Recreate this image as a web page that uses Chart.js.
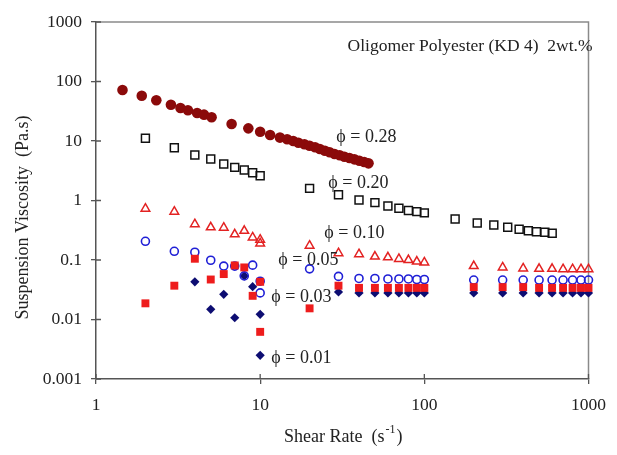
<!DOCTYPE html>
<html>
<head>
<meta charset="utf-8">
<script src="https://cdn.jsdelivr.net/npm/chart.js@4.4.0/dist/chart.umd.min.js"></script>
<style>
  html, body { margin: 0; padding: 0; background: #fff; }
  #wrap { width: 617px; height: 455px; }
</style>
</head>
<body>
<div id="wrap"><canvas id="viscChart" width="617" height="455"></canvas></div>
<script>
// shear rate (1/s) and suspension viscosity (Pa.s)
const rate28 = [1.45, 1.9, 2.33, 2.86, 3.27, 3.63, 4.13, 4.55, 5.06, 6.7, 8.47, 10, 11.5, 13.2, 14.6, 15.9, 17.1, 18.6, 20, 21.6, 23.1, 24.8, 26.5, 28.4, 30.5, 32.6, 35, 37.5, 40.2, 43, 45.7];
const visc28 = [72, 57.7, 48.3, 40.7, 35.9, 32.8, 29.6, 27.7, 25, 19.3, 16.3, 14.3, 12.6, 11.4, 10.7, 10.0, 9.36, 8.8, 8.34, 7.83, 7.34, 6.87, 6.46, 6.05, 5.75, 5.45, 5.18, 4.92, 4.67, 4.43, 4.21];

const rate20 = [2, 3, 4, 5, 6, 7, 8, 9, 10, 20, 30, 40, 50, 60, 70, 80, 90, 100, 154, 210, 265, 322, 378, 430, 482, 542, 601];
const visc20 = [11.1, 7.7, 5.8, 4.97, 4.1, 3.6, 3.26, 2.93, 2.6, 1.6, 1.25, 1.02, 0.92, 0.81, 0.74, 0.68, 0.65, 0.62, 0.49, 0.42, 0.387, 0.355, 0.328, 0.31, 0.299, 0.292, 0.281];

const rate10 = [2, 3, 4, 5, 6, 7, 8, 9, 10, 10, 20, 30, 40, 50, 60, 70, 80, 90, 100, 200, 300, 400, 500, 600, 700, 800, 900, 1000];
const visc10 = [0.73, 0.65, 0.40, 0.355, 0.35, 0.27, 0.31, 0.24, 0.22, 0.19, 0.174, 0.13, 0.125, 0.114, 0.111, 0.104, 0.1, 0.094, 0.091, 0.079, 0.075, 0.072, 0.071, 0.071, 0.070, 0.070, 0.070, 0.070];

const rate05 = [2, 3, 4, 5, 6, 7, 8, 9, 10, 10, 20, 30, 40, 50, 60, 70, 80, 90, 100, 200, 300, 400, 500, 600, 700, 800, 900, 1000];
const visc05 = [0.206, 0.14, 0.135, 0.099, 0.079, 0.079, 0.054, 0.082, 0.044, 0.028, 0.071, 0.053, 0.049, 0.049, 0.048, 0.048, 0.048, 0.047, 0.047, 0.046, 0.046, 0.046, 0.046, 0.046, 0.046, 0.046, 0.046, 0.046];

const rate03 = [2, 3, 4, 5, 6, 7, 8, 9, 10, 10, 20, 30, 40, 50, 60, 70, 80, 90, 100, 200, 300, 400, 500, 600, 700, 800, 900, 1000];
const visc03 = [0.0187, 0.037, 0.105, 0.047, 0.058, 0.081, 0.075, 0.025, 0.043, 0.0062, 0.0154, 0.037, 0.034, 0.034, 0.034, 0.034, 0.034, 0.034, 0.034, 0.035, 0.035, 0.035, 0.034, 0.034, 0.034, 0.034, 0.034, 0.034];

const rate01 = [4, 5, 6, 7, 8, 9, 10, 10, 30, 40, 50, 60, 70, 80, 90, 100, 200, 300, 400, 500, 600, 700, 800, 900, 1000];
const visc01 = [0.043, 0.0148, 0.0265, 0.0107, 0.054, 0.0356, 0.0122, 0.0025, 0.029, 0.028, 0.028, 0.028, 0.028, 0.028, 0.028, 0.028, 0.028, 0.028, 0.028, 0.028, 0.028, 0.028, 0.028, 0.028, 0.028];

const xTicks = [1, 10, 100, 1000];
const yTicks = [0.001, 0.01, 0.1, 1, 10, 100, 1000];

// curve labels, anchored in data coordinates (left edge, vertical middle)
const curveLabels = [
  { text: "\u03D5 = 0.28", x: 29.1, y: 11.7 },
  { text: "\u03D5 = 0.20", x: 26, y: 1.97 },
  { text: "\u03D5 = 0.10", x: 24.6, y: 0.284 },
  { text: "\u03D5 = 0.05", x: 12.9, y: 0.1 },
  { text: "\u03D5 = 0.03", x: 11.7, y: 0.0239 },
  { text: "\u03D5 = 0.01", x: 11.7, y: 0.00225 }
];
const boxTitle = "Oligomer Polyester (KD 4)  2wt.%";

const serif = "'Liberation Serif', 'Times New Roman', serif";

function pts(xs, ys) {
  return xs.map((v, i) => ({ x: v, y: ys[i] }));
}

// frame, cross ticks and text
const decorations = {
  id: "decorations",
  beforeDatasetsDraw(chart) {
    const { ctx, chartArea: a, scales } = chart;
    ctx.save();
    ctx.strokeStyle = "#8a8a8a";
    ctx.lineWidth = 1.5;
    ctx.beginPath();
    ctx.moveTo(a.left, a.top);
    ctx.lineTo(a.right, a.top);
    ctx.lineTo(a.right, a.bottom);
    ctx.stroke();
    // inner half of the ticks
    ctx.strokeStyle = "#555";
    ctx.lineWidth = 1.3;
    ctx.beginPath();
    xTicks.forEach(v => {
      const px = scales.x.getPixelForValue(v);
      ctx.moveTo(px, a.bottom);
      ctx.lineTo(px, a.bottom - 5);
    });
    yTicks.forEach(v => {
      const py = scales.y.getPixelForValue(v);
      ctx.moveTo(a.left, py);
      ctx.lineTo(a.left + 5, py);
    });
    ctx.stroke();
    ctx.restore();
  },
  afterDatasetsDraw(chart) {
    const { ctx, chartArea: a, scales } = chart;
    ctx.save();
    ctx.fillStyle = "#222";
    ctx.textBaseline = "middle";
    ctx.font = "18px " + serif;
    ctx.textAlign = "left";
    curveLabels.forEach(l => {
      ctx.fillText(l.text, scales.x.getPixelForValue(l.x), scales.y.getPixelForValue(l.y));
    });
    ctx.font = "17.5px " + serif;
    ctx.textAlign = "right";
    ctx.fillText(boxTitle, a.right + 4, a.top + 24);
    ctx.textAlign = "left";
    ctx.font = "18px " + serif;

    // y axis title
    ctx.save();
    ctx.translate(23, (a.top + a.bottom) / 2 + 17);
    ctx.rotate(-Math.PI / 2);
    ctx.textAlign = "center";
    ctx.fillText("Suspension Viscosity  (Pa.s)", 0, 0);
    ctx.restore();

    // x axis title with superscript
    const main = "Shear Rate  (s";
    const sup = "-1";
    const close = ")";
    ctx.font = "18px " + serif;
    const w1 = ctx.measureText(main).width;
    const w3 = ctx.measureText(close).width;
    ctx.font = "12px " + serif;
    const w2 = ctx.measureText(sup).width;
    let x0 = (a.left + a.right) / 2 - (w1 + w2 + w3) / 2;
    const yT = 437;
    ctx.font = "18px " + serif;
    ctx.fillText(main, x0, yT);
    ctx.font = "12px " + serif;
    ctx.fillText(sup, x0 + w1 + 1, yT - 7);
    ctx.font = "18px " + serif;
    ctx.fillText(close, x0 + w1 + w2 + 2, yT);
    ctx.restore();
  }
};

const ctx = document.getElementById("viscChart").getContext("2d");
const viscChart = new Chart(ctx, {
  type: "scatter",
  data: {
    datasets: [
      {
        label: "phi = 0.03",
        data: pts(rate03, visc03),
        pointStyle: "rect",
        pointRadius: 5.6,
        backgroundColor: "#ee1c1c",
        borderColor: "#ee1c1c",
        borderWidth: 0,
        clip: false
      },
      {
        label: "phi = 0.05",
        data: pts(rate05, visc05),
        pointStyle: "circle",
        pointRadius: 4,
        backgroundColor: "rgba(0,0,0,0)",
        borderColor: "#1f1fd6",
        borderWidth: 1.6,
        clip: false
      },
      {
        label: "phi = 0.01",
        data: pts(rate01, visc01),
        pointStyle: "rectRot",
        pointRadius: 4.6,
        backgroundColor: "#0d0d72",
        borderColor: "#0d0d72",
        borderWidth: 0,
        clip: false
      },
      {
        label: "phi = 0.10",
        data: pts(rate10, visc10),
        pointStyle: "triangle",
        pointRadius: 5,
        backgroundColor: "rgba(0,0,0,0)",
        borderColor: "#e32222",
        borderWidth: 1.5,
        clip: false
      },
      {
        label: "phi = 0.20",
        data: pts(rate20, visc20),
        pointStyle: "rect",
        pointRadius: 5.6,
        backgroundColor: "rgba(0,0,0,0)",
        borderColor: "#111",
        borderWidth: 1.5,
        clip: false
      },
      {
        label: "phi = 0.28",
        data: pts(rate28, visc28),
        pointStyle: "circle",
        pointRadius: 5.3,
        backgroundColor: "#8b0a0a",
        borderColor: "#8b0a0a",
        borderWidth: 0,
        clip: false
      }
    ]
  },
  options: {
    responsive: false,
    animation: false,
    layout: { padding: { left: 0, top: 22, right: 21, bottom: 0 } },
    plugins: {
      legend: { display: false },
      tooltip: { enabled: false }
    },
    scales: {
      x: {
        type: "logarithmic",
        min: 1,
        max: 1000,
        afterBuildTicks: s => { s.ticks = xTicks.map(v => ({ value: v })); },
        afterFit: s => { s.height = 76; },
        ticks: {
          callback: v => String(v),
          color: "#222",
          font: { family: serif, size: 17.5 },
          padding: 11,
          maxRotation: 0,
          autoSkip: false
        },
        grid: { drawOnChartArea: false, drawTicks: true, tickLength: 5, color: "#555", lineWidth: 1.3 },
        border: { display: true, color: "#555", width: 1.5 }
      },
      y: {
        type: "logarithmic",
        min: 0.001,
        max: 1000,
        afterBuildTicks: s => { s.ticks = yTicks.map(v => ({ value: v })); },
        afterFit: s => { s.width = 96; },
        ticks: {
          callback: v => String(v),
          color: "#222",
          font: { family: serif, size: 17.5 },
          padding: 9,
          autoSkip: false
        },
        grid: { drawOnChartArea: false, drawTicks: true, tickLength: 5, color: "#555", lineWidth: 1.3 },
        border: { display: true, color: "#555", width: 1.5 }
      }
    }
  },
  plugins: [decorations]
});
</script>
</body>
</html>
